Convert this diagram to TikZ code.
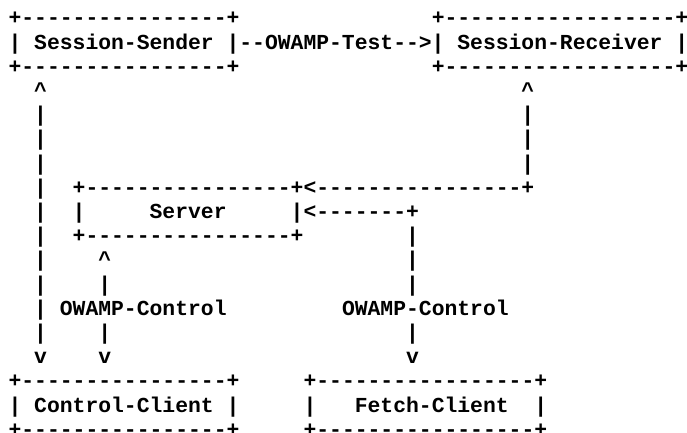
\documentclass[tikz,border=0pt]{standalone}
\usepackage{fontspec}
\setmonofont{Liberation Mono}
\newcommand{\sk}[1]{\hspace*{#1\dimexpr0.6em\relax}}
\newcommand{\up}{\textasciicircum}

\begin{document}
\begin{tikzpicture}[
  asc/.style={anchor=base west,inner sep=0pt,outer sep=0pt,
    font=\ttfamily\bfseries\fontsize{21.37pt}{24.2pt}\selectfont}]
  \useasboundingbox (0,0) rectangle (687pt,-432pt);
  \fill[white] (0,0) rectangle (687pt,-432pt);
  \clip (0,0) rectangle (687pt,-432pt);

  \node[asc] (r0) at (8.6pt,4.5pt) {\sk{2}|\sk{8}(\sk{8}|\sk{1}|\sk{7})};
  \node[asc] (r1) at (8.6pt,-24.9pt) {+----------------+\sk{15}+------------------+};
  \node[asc] (r2) at (8.6pt,-49.1pt) {|\sk{1}Session-Sender\sk{1}|--OWAMP-Test-->|\sk{1}Session-Receiver\sk{1}|};
  \node[asc] (r3) at (8.6pt,-73.3pt) {+----------------+\sk{15}+------------------+};

  \node[asc] (r4) at (8.6pt,-97.5pt) {\sk{2}\up\sk{37}\up};
  \node[asc] (r5) at (8.6pt,-121.7pt) {\sk{2}|\sk{37}|};
  \node[asc] (r6) at (8.6pt,-145.9pt) {\sk{2}|\sk{37}|};
  \node[asc] (r7) at (8.6pt,-170.1pt) {\sk{2}|\sk{37}|};

  \node[asc] (r8) at (8.6pt,-194.3pt) {\sk{2}|\sk{2}+----------------+<----------------+};
  \node[asc] (r9) at (8.6pt,-218.5pt) {\sk{2}|\sk{2}|\sk{5}Server\sk{5}|<-------+};
  \node[asc] (r10) at (8.6pt,-242.7pt) {\sk{2}|\sk{2}+----------------+\sk{8}|};

  \node[asc] (r11) at (8.6pt,-266.9pt) {\sk{2}|\sk{4}\up\sk{23}|};
  \node[asc] (r12) at (8.6pt,-291.1pt) {\sk{2}|\sk{4}|\sk{23}|};
  \node[asc] (r13) at (8.6pt,-315.3pt) {\sk{2}|\sk{1}OWAMP-Control\sk{9}OWAMP-Control};
  \node[asc] (r14) at (8.6pt,-339.5pt) {\sk{2}|\sk{4}|\sk{23}|};
  \node[asc] (r15) at (8.6pt,-363.7pt) {\sk{2}v\sk{4}v\sk{23}v};

  \node[asc] (r16) at (8.6pt,-387.9pt) {+----------------+\sk{5}+-----------------+};
  \node[asc] (r17) at (8.6pt,-412.1pt) {|\sk{1}Control-Client\sk{1}|\sk{5}|\sk{3}Fetch-Client\sk{2}|};
  \node[asc] (r18) at (8.6pt,-436.3pt) {+----------------+\sk{5}+-----------------+};
\end{tikzpicture}
\end{document}
